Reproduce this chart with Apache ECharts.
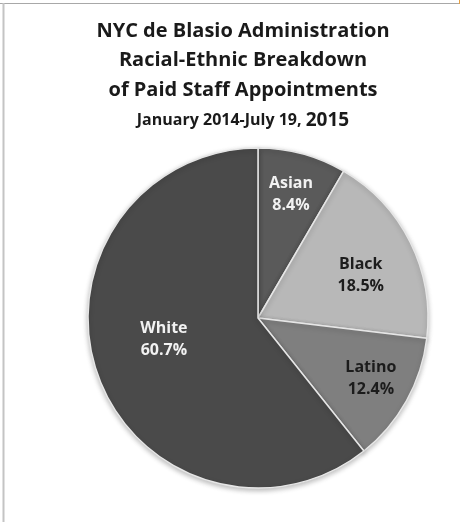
<!DOCTYPE html>
<html>
<head>
<meta charset="utf-8">
<script src="https://cdn.jsdelivr.net/npm/echarts@6/dist/echarts.min.js"></script>
<style>
html,body{margin:0;padding:0;background:#fff;}
#c{width:464px;height:522px;}
</style>
</head>
<body>
<div id="c"></div>
<script>
const categories = ['Asian', 'Black', 'Latino', 'White'];
const shares = [8.4, 18.5, 12.4, 60.7];
const titleLines = ['NYC de Blasio Administration', 'Racial-Ethnic Breakdown', 'of Paid Staff Appointments'];
const subtitleText = 'January 2014-July 19, ';
const subtitleYear = '2015';

const sliceColors = ['#5a5a5a', '#b8b8b8', '#7f7f7f', '#4a4a4a'];
const labelColors = ['#f2f2f2', '#1c1c1c', '#1c1c1c', '#f2f2f2'];
const labelOffsets = [[10, -39], [24, -3], [36, 18], [-11, -8]];

const chart = echarts.init(document.getElementById('c'), null, {renderer: 'canvas'});
const FONT = '"Open Sans", "DejaVu Sans", sans-serif';

const data = categories.map((c, i) => ({
  name: c,
  value: shares[i],
  itemStyle: {color: sliceColors[i]},
  label: {color: labelColors[i], offset: labelOffsets[i]}
}));

const graphics = [
  {type: 'line', shape: {x1: 0, y1: 3.5, x2: 460, y2: 3.5}, style: {stroke: '#a8a8a8', lineWidth: 1}, silent: true},
  {type: 'line', shape: {x1: 3.5, y1: 3, x2: 3.5, y2: 522}, style: {stroke: '#c4c4c4', lineWidth: 2}, silent: true},
  {type: 'line', shape: {x1: 459.5, y1: 0, x2: 459.5, y2: 4}, style: {stroke: '#e8a040', lineWidth: 1}, silent: true}
];
titleLines.forEach((t, i) => {
  graphics.push({
    type: 'text', silent: true,
    style: {text: t, x: 243, y: 41 + i * 29.5, textAlign: 'center', textVerticalAlign: 'bottom',
      fill: '#1a1a1a', font: 'bold 20px ' + FONT}
  });
});
graphics.push({
  type: 'text', silent: true,
  style: {
    text: '{a|' + subtitleText + '}{b|' + subtitleYear + '}',
    x: 243, y: 130, textAlign: 'center', textVerticalAlign: 'bottom',
    rich: {
      a: {fontFamily: FONT, fontWeight: 'bold', fontSize: 16, fill: '#1a1a1a', color: '#1a1a1a'},
      b: {fontFamily: FONT, fontWeight: 'bold', fontSize: 19, fill: '#1a1a1a', color: '#1a1a1a'}
    }
  }
});

chart.setOption({
  backgroundColor: '#ffffff',
  animation: false,
  graphic: graphics,
  series: [{
    type: 'pie',
    center: [258, 318],
    radius: [0, 170],
    startAngle: 90,
    clockwise: true,
    data: data,
    itemStyle: {borderColor: '#e6e6e6', borderWidth: 1.5, shadowBlur: 5, shadowColor: 'rgba(0,0,0,0.25)', shadowOffsetY: 2},
    label: {
      show: true,
      position: 'inside',
      formatter: p => p.name + '\n' + p.value.toFixed(1) + '%',
      fontFamily: FONT,
      fontWeight: 'bold',
      fontSize: 16,
      lineHeight: 22,
      align: 'center'
    },
    labelLine: {show: false},
    emphasis: {disabled: true}
  }]
});
</script>
</body>
</html>
